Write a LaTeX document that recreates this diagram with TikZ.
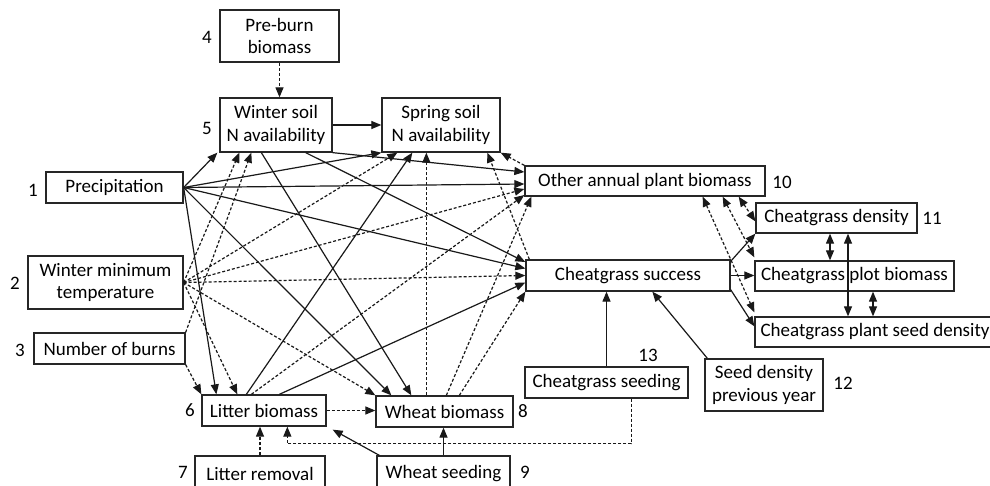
\documentclass[tikz,border=0pt]{standalone}
\usepackage{fontspec}
\setmainfont{Carlito}
\usetikzlibrary{arrows.meta}
\begin{document}
\begin{tikzpicture}[x=1pt,y=-1pt,
  box/.style={draw=black!85,line width=1.3pt,inner sep=0pt,align=center,font=\fontsize{19}{22.5}\selectfont},
  lab/.style={inner sep=0pt,font=\fontsize{19}{22.5}\selectfont},
  posarr/.style={line width=1.2pt,draw=black!90,-{Triangle[length=10pt,width=8pt]}},
  negarr/.style={posarr,dash pattern=on 3pt off 2pt},
  dblarr/.style={line width=1.2pt,draw=black!90,{Triangle[length=10pt,width=8pt]}-{Triangle[length=10pt,width=8pt]}},
  dbldash/.style={dblarr,dash pattern=on 3pt off 2pt}]
\useasboundingbox (0,0) rectangle (990,486);
\clip (0,0) rectangle (990,486);
\fill[white] (0,0) rectangle (990,486);
% nodes
\node[box,minimum width=119pt,minimum height=52pt] (preburn) at (279.5,36) {Pre-burn\\biomass};
\node[box,minimum width=112pt,minimum height=54pt] (winterN) at (276,125) {Winter soil\\N availability};
\node[box,minimum width=118pt,minimum height=54pt] (springN) at (441,125) {Spring soil\\N availability};
\node[box,minimum width=137pt,minimum height=31pt] (precip) at (114.5,187.5) {Precipitation};
\node[box,minimum width=155pt,minimum height=53pt] (wmin) at (105.5,282.5) {Winter minimum\\temperature};
\node[box,minimum width=151pt,minimum height=31pt] (burns) at (109.5,348.5) {Number of burns};
\node[box,minimum width=124pt,minimum height=31pt] (litter) at (264,410.5) {Litter biomass};
\node[box,minimum width=137pt,minimum height=31pt] (wheat) at (444.5,411.5) {Wheat biomass};
\node[box,minimum width=130pt,minimum height=35pt] (litrem) at (260,473.5) {Litter removal};
\node[box,minimum width=133pt,minimum height=35pt] (wheatseed) at (443.5,473.5) {Wheat seeding};
\node[box,minimum width=240pt,minimum height=30pt] (other) at (645,181) {Other annual plant biomass};
\node[box,minimum width=204pt,minimum height=31pt] (cheatsucc) at (628,275.5) {Cheatgrass success};
\node[box,minimum width=161pt,minimum height=30pt] (cdens) at (836.5,218) {Cheatgrass density};
\node[box,minimum width=199pt,minimum height=30pt] (cplot) at (854.5,276) {Cheatgrass plot biomass};
\node[box,minimum width=240pt,minimum height=30pt] (cseed) at (875,332) {Cheatgrass plant seed density};
\node[box,minimum width=118pt,minimum height=52pt] (seedprev) at (764,385) {Seed density\\previous year};
\node[box,minimum width=163pt,minimum height=31pt] (cseeding) at (606.5,382.5) {Cheatgrass seeding};
% number labels
\node[lab] (n1) at (33,190) {1};
\node[lab] (n2) at (15,283) {2};
\node[lab] (n3) at (20,350) {3};
\node[lab] (n4) at (207,37) {4};
\node[lab] (n5) at (207,128) {5};
\node[lab] (n6) at (190,410) {6};
\node[lab] (n7) at (183,472) {7};
\node[lab] (n8) at (523,411) {8};
\node[lab] (n9) at (525,472) {9};
\node[lab] (n10) at (782,182) {10};
\node[lab] (n11) at (932,218) {11};
\node[lab] (n12) at (843,383) {12};
\node[lab] (n13) at (648,355) {13};
% precipitation
\draw[posarr] (precip.east) -- ([xshift=-2pt]winterN.south west);
\draw[posarr] (precip.east) -- (springN.south west);
\draw[posarr] (precip.east) -- ([yshift=-3pt]other.west);
\draw[posarr] (precip.east) -- ([yshift=7pt]cheatsucc.west);
\draw[posarr] (precip.east) -- ([xshift=16pt]wheat.north west);
\draw[posarr] (precip.east) -- ([xshift=15pt]litter.north west);
% winter soil N
\draw[posarr] (winterN.east) -- (springN.west);
\draw[posarr] ([xshift=42pt]winterN.south west) -- ([xshift=36pt]wheat.north west);
\draw[posarr] ([xshift=-27pt]winterN.south east) -- ([yshift=13.5pt]cheatsucc.west);
\draw[posarr] (winterN.south east) -- ([yshift=9pt]other.west);
% litter
\draw[posarr] ([xshift=45pt]litter.north west) -- ([xshift=31pt]springN.south west);
\draw[posarr] ([xshift=78pt]litter.north west) -- ([yshift=-7pt]cheatsucc.west);
\draw[negarr] ([xshift=50pt]litter.north west) -- ([yshift=-14pt]other.west);
\draw[negarr] (litter.east) -- (litter.east -| wheat.west);
% winter minimum temperature
\draw[negarr] (wmin.east) -- ([xshift=20pt]winterN.south west);
\draw[negarr] (wmin.east) -- ([xshift=16pt]springN.south west);
\draw[negarr] (wmin.east) -- ([yshift=-8pt]other.west);
\draw[negarr] (wmin.east) -- (cheatsucc.west);
\draw[negarr] (wmin.east) -- (wheat.north west);
\draw[negarr] (wmin.east) -- ([xshift=36pt]litter.north west);
% number of burns
\draw[negarr] (burns.north east) -- ([xshift=32pt]winterN.south west);
\draw[negarr] (burns.south east) -- (litter.north west);
% pre-burn
\draw[negarr] (preburn.south) -- (preburn.south |- winterN.north);
% wheat
\draw[negarr] ([xshift=51pt]wheat.north west) -- ([xshift=45pt]springN.south west);
\draw[negarr] ([xshift=71pt]wheat.north west) -- ([xshift=7pt]other.south west);
\draw[negarr] ([xshift=84pt]wheat.north west) -- (cheatsucc.south west);
% to spring soil N
\draw[negarr] (other.north west) -- (springN.south east);
\draw[negarr] ([xshift=4pt]cheatsucc.north west) -- ([xshift=106pt]springN.south west);
% treatments
\draw[posarr] (cseeding.north) -- (cseeding.north |- cheatsucc.south);
\draw[posarr] ([xshift=3pt]seedprev.north west) -- ([xshift=127pt]cheatsucc.south west);
\draw[posarr] (wheatseed.north) -- (wheatseed.north |- wheat.south);
\draw[posarr] ([xshift=3pt]wheatseed.north west) -- ([xshift=6pt,yshift=-3pt]litter.south east);
\draw[negarr] (litrem.north) -- (litrem.north |- litter.south);
\draw[negarr] ([xshift=107pt]cseeding.south west) -- ++(0,45) -| ([xshift=86pt]litter.south west);
% cheatgrass success outputs
\draw[posarr] ([yshift=-2pt]cheatsucc.north east) -- (cdens.south west);
\draw[posarr] (cheatsucc.east) -- (cheatsucc.east -| cplot.west);
\draw[posarr] ([yshift=2pt]cheatsucc.south east) -- ([yshift=-10pt]cseed.north west);
% correlations
\draw[dbldash] ([xshift=-27pt]other.south east) -- ([yshift=-19pt]cdens.north west);
\draw[dbldash] ([xshift=-43pt]other.south east) -- ([yshift=3pt]cplot.north west);
\draw[dbldash] ([xshift=-63pt]other.south east) -- ([yshift=4pt]cseed.north west);
\draw[dblarr] ([xshift=-6.5pt]cdens.south) -- ([xshift=-6.5pt]cdens.south |- cplot.north);
\draw[dblarr] ([xshift=11.5pt]cdens.south) -- ([xshift=11.5pt]cdens.south |- cseed.north);
\draw[dblarr] ([xshift=18.5pt]cplot.south) -- ([xshift=18.5pt]cplot.south |- cseed.north);
\end{tikzpicture}
\end{document}
